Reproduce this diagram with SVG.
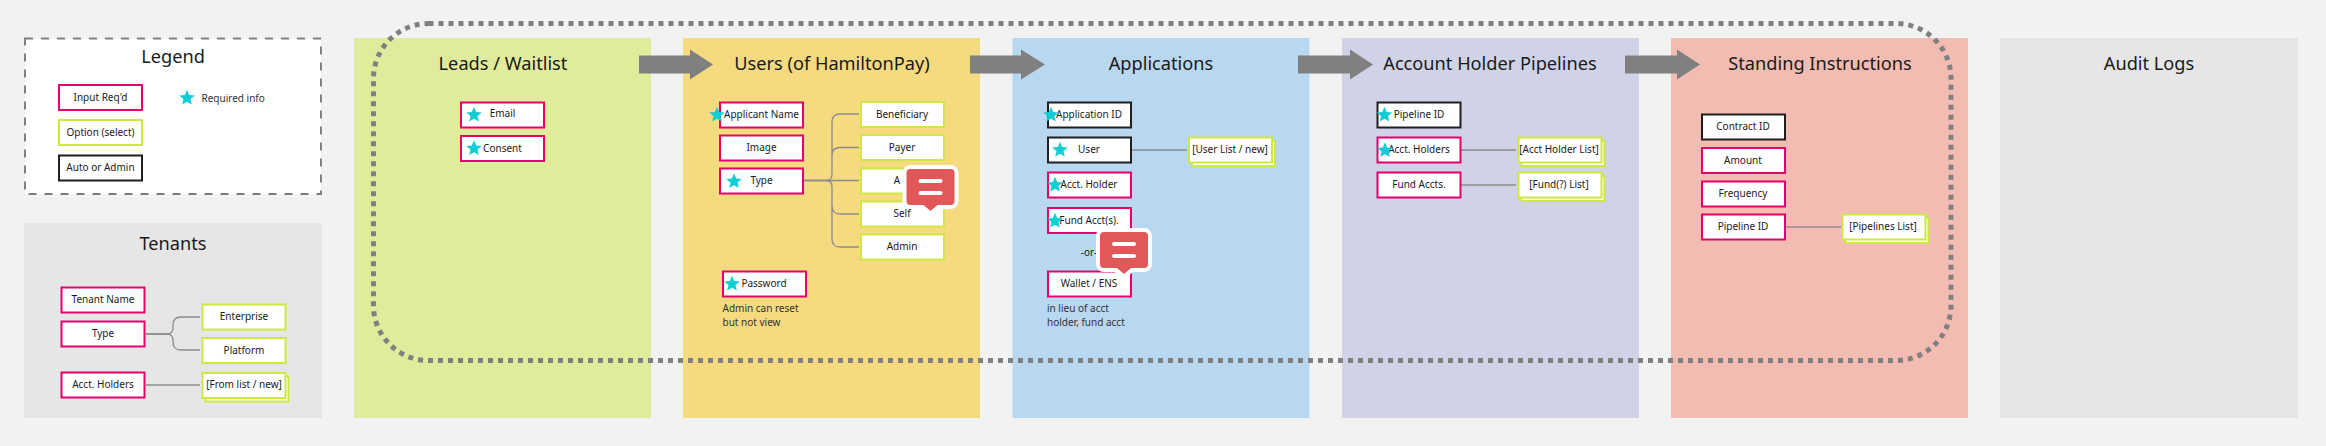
<svg xmlns="http://www.w3.org/2000/svg" xmlns:xlink="http://www.w3.org/1999/xlink" width="2326" height="446" viewBox="0 0 2326 446">
<style>
text{font-family:"Noto Sans","Open Sans",sans-serif;fill:#1a1a1a;text-anchor:middle}
.t{font-size:18.200px}
.b{font-size:10px}
.n{font-size:10px;text-anchor:start;fill:#333}
.box{fill:#fff;stroke-width:2}
.r{stroke:#e6006e}
.o{stroke:#cee741}
.k{stroke:#1f1f1f}
.c{fill:none;stroke:#8c8c8c;stroke-width:1.3}
.arrow{fill:#808080}
.dot{fill:none;stroke:#808080;stroke-width:5;stroke-dasharray:5 5}
</style>
<defs>
<path id="star" fill="#12cdd4" d="M0-8.200 2.200-2.900 7.800-2.500 3.500 1.100 4.800 6.600 0 3.700-4.800 6.600-3.500 1.100-7.800-2.500-2.200-2.900Z"/>
<g id="cmt">
<path fill="#fff" d="M-20-22H20a8 8 0 0 1 8 8V14a8 8 0 0 1-8 8H9L0 29-9 22H-20a8 8 0 0 1-8-8V-14a8 8 0 0 1 8-8Z"/>
<path fill="#e25757" d="M-20-18H20a4 4 0 0 1 4 4V14a4 4 0 0 1-4 4H7L0 24-7 18H-20a4 4 0 0 1-4-4V-14a4 4 0 0 1 4-4Z"/>
<path stroke="#fff" stroke-width="4" stroke-linecap="round" d="M-10-6H10M-10 6H10"/>
</g>
</defs>
<rect width="2326" height="446" fill="#f2f2f2"/>

<g id="panels">
<rect id="panel-leads" x="354" y="38" width="297" height="380" fill="#e0ec9b"/>
<rect id="panel-users" x="683" y="38" width="297" height="380" fill="#f5da80"/>
<rect id="panel-applications" x="1012.500" y="38" width="297" height="380" fill="#b8d7f1"/>
<rect id="panel-pipelines" x="1342" y="38" width="297" height="380" fill="#d0d2e7"/>
<rect id="panel-standing" x="1671" y="38" width="297" height="380" fill="#f3bcb3"/>
<rect id="panel-audit" x="2000" y="38" width="298" height="380" fill="#e6e6e6"/>
<text class="t" x="503" y="70">Leads / Waitlist</text>
<text class="t" x="832" y="70">Users (of HamiltonPay)</text>
<text class="t" x="1161" y="70">Applications</text>
<text class="t" x="1490" y="70">Account Holder Pipelines</text>
<text class="t" x="1820" y="70">Standing Instructions</text>
<text class="t" x="2149" y="70">Audit Logs</text>
</g>

<g id="legend">
<rect x="25" y="38.500" width="296" height="155.500" fill="#fff" stroke="#808080" stroke-width="2" stroke-dasharray="8 8"/>
<text class="t" x="173" y="63">Legend</text>
<rect class="box r" x="59" y="85" width="83" height="25"/><text class="b" x="100.500" y="100.500">Input Req'd</text>
<rect class="box o" x="59" y="120" width="83" height="25"/><text class="b" x="100.500" y="135.500">Option (select)</text>
<rect class="box k" x="59" y="155.500" width="83" height="25"/><text class="b" x="100.500" y="170.500">Auto or Admin</text>
<use href="#star" x="187" y="98"/>
<text class="n" x="201.500" y="102">Required info</text>
</g>

<g id="tenants">
<rect x="24" y="223" width="298" height="195" fill="#e6e6e6"/>
<text class="t" x="173" y="250">Tenants</text>
</g>

<g id="connectors">
<path class="c" d="M146 334H168C171 334 173 331 173 328V325C173 320 176 317 181 317H200"/>
<path class="c" d="M146 334H168C171 334 173 337 173 340V342C173 347 176 350 181 350H200"/>
<path class="c" d="M146 385H200"/>
<path class="c" d="M804 180.500H826C830 180.500 832 178 832 174V122C832 117 835 114 840 114H859"/>
<path class="c" d="M832 155C832 150 835 147.500 840 147.500H859"/>
<path class="c" d="M804 180.500H859"/>
<path class="c" d="M826 180.500C830 180.500 832 183 832 187V239C832 244 835 247 840 247H859"/>
<path class="c" d="M832 206C832 211 835 214 840 214H859"/>
<path class="c" d="M1132 150H1187"/>
<path class="c" d="M1461 150H1516"/>
<path class="c" d="M1461 185H1516"/>
<path class="c" d="M1786 227H1841"/>
<path class="arrow" d="M639 55.500H690V49.500L713 64.500 690 79.500V73.500H639Z"/>
<path class="arrow" d="M970 55.500H1021V49.500L1045 64.500 1021 79.500V73.500H970Z"/>
<path class="arrow" d="M1298 55.500H1350V49.500L1373 64.500 1350 79.500V73.500H1298Z"/>
<path class="arrow" d="M1625 55.500H1677V49.500L1700 64.500 1677 79.500V73.500H1625Z"/>
</g>

<g id="tenant-fields">
<rect class="box r" x="61.500" y="287.500" width="83" height="25"/><text class="b" x="103" y="303">Tenant Name</text>
<rect class="box r" x="61.500" y="321.500" width="83" height="25"/><text class="b" x="103" y="337">Type</text>
<rect class="box r" x="61.500" y="372.500" width="83" height="25"/><text class="b" x="103" y="388">Acct. Holders</text>
<rect class="box o" x="202.500" y="304.500" width="83" height="25"/><text class="b" x="244" y="320">Enterprise</text>
<rect class="box o" x="202.500" y="338" width="83" height="25"/><text class="b" x="244" y="354">Platform</text>
<rect class="box o" x="205.500" y="376.500" width="83" height="25"/><rect class="box o" x="202.500" y="373" width="83" height="25"/><text class="b" x="244" y="388">[From list / new]</text>
</g>

<g id="leads-fields">
<g id="lead-email"><rect class="box r" x="461" y="102.500" width="83" height="25"/><text class="b" x="502.500" y="117">Email</text><use href="#star" x="474" y="115"/></g>
<g id="lead-consent"><rect class="box r" x="461" y="136" width="83" height="25"/><text class="b" x="502.500" y="151.500">Consent</text><use href="#star" x="474" y="148.500"/></g>
</g>

<g id="users-fields">
<g id="user-applicant"><rect class="box r" x="720" y="102.500" width="83" height="25"/><text class="b" x="761.500" y="117.500">Applicant Name</text><use href="#star" x="717" y="115"/></g>
<g id="user-image"><rect class="box r" x="720" y="135.500" width="83" height="25"/><text class="b" x="761.500" y="151">Image</text></g>
<g id="user-type"><rect class="box r" x="720" y="168.500" width="83" height="25"/><text class="b" x="761.500" y="184">Type</text><use href="#star" x="734" y="181.500"/></g>
<g id="user-password"><rect class="box r" x="723" y="271.500" width="83" height="25"/><text class="b" x="764" y="286.500">Password</text><use href="#star" x="732" y="284"/></g>
<text class="n" x="722.500" y="312">Admin can reset</text>
<text class="n" x="722.500" y="326">but not view</text>
<g id="opt-beneficiary"><rect class="box o" x="861" y="102" width="83" height="25"/><text class="b" x="902" y="117.500">Beneficiary</text></g>
<g id="opt-payer"><rect class="box o" x="861" y="135" width="83" height="25"/><text class="b" x="902" y="150.500">Payer</text></g>
<g id="opt-a"><rect class="box o" x="861" y="168.500" width="83" height="25"/><text class="b" x="897" y="184">A</text></g>
<g id="opt-self"><rect class="box o" x="861" y="201.500" width="83" height="25"/><text class="b" x="902" y="216.500">Self</text></g>
<g id="opt-admin"><rect class="box o" x="861" y="234.500" width="83" height="25"/><text class="b" x="902" y="250">Admin</text></g>
</g>

<g id="applications-fields">
<g id="app-id"><rect class="box k" x="1048" y="102.500" width="83" height="25"/><text class="b" x="1089" y="117.500">Application ID</text><use href="#star" x="1051" y="115"/></g>
<g id="app-user"><rect class="box k" x="1048" y="137.500" width="83" height="25"/><text class="b" x="1089" y="153">User</text><use href="#star" x="1060" y="150"/></g>
<g id="app-holder"><rect class="box r" x="1048" y="172.500" width="83" height="25"/><text class="b" x="1089" y="188">Acct. Holder</text><use href="#star" x="1055" y="185"/></g>
<g id="app-fund"><rect class="box r" x="1048" y="208" width="83" height="25"/><text class="b" x="1089" y="223.500">Fund Acct(s).</text><use href="#star" x="1055" y="221"/></g>
<text class="b" x="1089" y="256">-or-</text>
<g id="app-wallet"><rect class="box r" x="1048" y="271.500" width="83" height="25"/><text class="b" x="1089" y="286.500">Wallet / ENS</text></g>
<text class="n" x="1047" y="312">in lieu of acct</text>
<text class="n" x="1047" y="326">holder, fund acct</text>
<g id="app-userlist"><rect class="box o" x="1192" y="141" width="83" height="25"/><rect class="box o" x="1189" y="137.500" width="83" height="25"/><text class="b" x="1230" y="153">[User List / new]</text></g>
</g>

<g id="pipelines-fields">
<g id="pipe-id"><rect class="box k" x="1377.500" y="102.500" width="83" height="25"/><text class="b" x="1419" y="117.500">Pipeline ID</text><use href="#star" x="1384.500" y="115"/></g>
<g id="pipe-holders"><rect class="box r" x="1377.500" y="137.500" width="83" height="25"/><text class="b" x="1419" y="153">Acct. Holders</text><use href="#star" x="1385" y="150.500"/></g>
<g id="pipe-fund"><rect class="box r" x="1377.500" y="172.500" width="83" height="25"/><text class="b" x="1419" y="188">Fund Accts.</text></g>
<g id="pipe-holderlist"><rect class="box o" x="1521.500" y="141" width="83" height="25"/><rect class="box o" x="1518.500" y="137.500" width="83" height="25"/><text class="b" x="1559" y="153">[Acct Holder List]</text></g>
<g id="pipe-fundlist"><rect class="box o" x="1521.500" y="176" width="83" height="25"/><rect class="box o" x="1518.500" y="172.500" width="83" height="25"/><text class="b" x="1559" y="188">[Fund(?) List]</text></g>
</g>

<g id="standing-fields">
<g id="si-contract"><rect class="box k" x="1702" y="114.500" width="83" height="25"/><text class="b" x="1743" y="130">Contract ID</text></g>
<g id="si-amount"><rect class="box r" x="1702" y="148" width="83" height="25"/><text class="b" x="1743" y="164">Amount</text></g>
<g id="si-frequency"><rect class="box r" x="1702" y="181.500" width="83" height="25"/><text class="b" x="1743" y="197">Frequency</text></g>
<g id="si-pipeline"><rect class="box r" x="1702" y="214.500" width="83" height="25"/><text class="b" x="1743" y="230">Pipeline ID</text></g>
<g id="si-pipelinelist"><rect class="box o" x="1845.500" y="218" width="83" height="25"/><rect class="box o" x="1842.500" y="214.500" width="83" height="25"/><text class="b" x="1883" y="230">[Pipelines List]</text></g>
</g>

<rect id="dotted-frame" class="dot" x="373.500" y="23.500" width="1577.500" height="337" rx="55" ry="55"/>
<use id="comment-1" href="#cmt" x="930.500" y="187"/>
<use id="comment-2" href="#cmt" x="1124" y="250"/>
</svg>
